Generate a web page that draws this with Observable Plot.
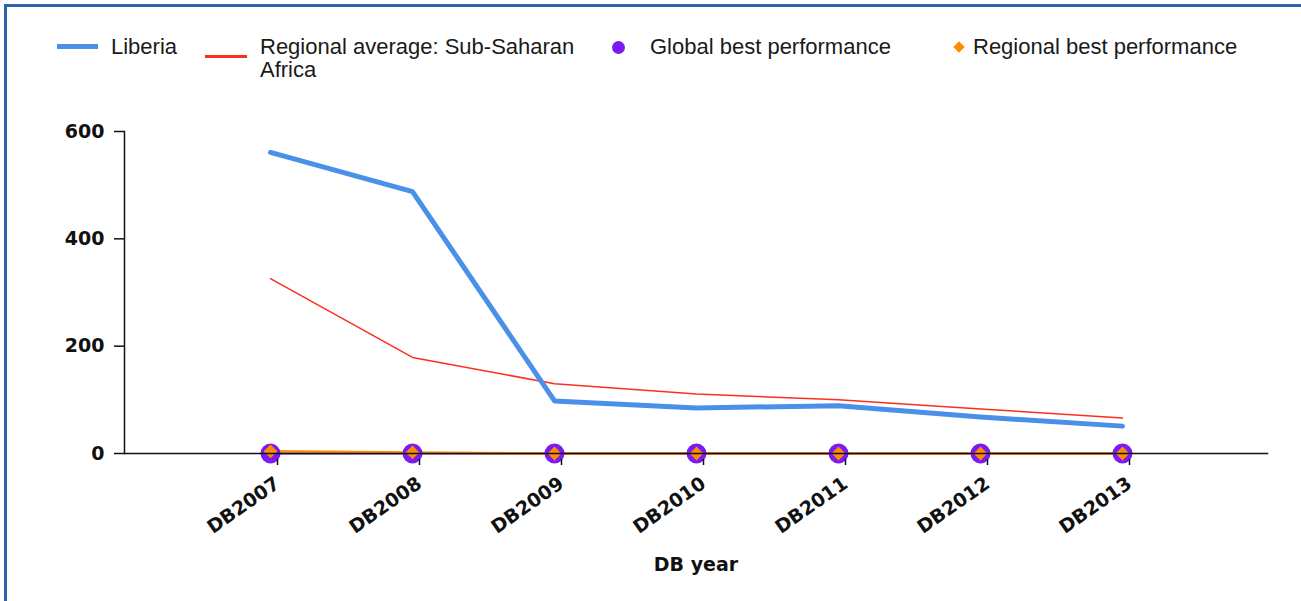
<!DOCTYPE html>
<html>
<head>
<meta charset="utf-8">
<script src="https://cdn.jsdelivr.net/npm/d3@7"></script>
<script src="https://cdn.jsdelivr.net/npm/@observablehq/plot@0.6"></script>
<style>
  body { margin: 0; background: #fff; }
  #wrap { position: relative; width: 1301px; height: 601px; overflow: hidden; background: #fff; }
  #border { position: absolute; left: 4px; top: 4px; width: 1400px; height: 700px;
            border-top: 3px solid #2b66ad; border-left: 3px solid #2b66ad; pointer-events: none; box-sizing: border-box; }
  #legend { position: relative; height: 100px; font-family: "Liberation Sans", Arial, sans-serif; font-size: 22px; color: #1a1a1a; }
  .txt { position: absolute; line-height: 23px; white-space: nowrap; }
  .sw { position: absolute; }
  #chart svg { display: block; }
</style>
</head>
<body>
<div id="wrap">
  <div id="legend"></div>
  <div id="chart"></div>
  <div id="border"></div>
</div>
<script>
// ---- data ----
const years = ["DB2007", "DB2008", "DB2009", "DB2010", "DB2011", "DB2012", "DB2013"];
const liberia = [561, 488, 98, 85, 89, 68, 51];
const regionalAverage = [326, 179, 130, 111, 100, 83, 66];
const globalBest = [0, 0, 0, 0, 0, 0, 0];
const regionalBest = [4, 2, 0, 0, 0, 0, 0];
const seriesNames = ["Liberia", "Regional average: Sub-Saharan Africa", "Global best performance", "Regional best performance"];
const seriesColors = ["#4a8fe8", "#ff2d1f", "#7a1bf4", "#ff8c00"];
const yTicks = [0, 200, 400, 600];
const xLabel = "DB year";

const rows = vals => years.map((year, i) => ({year, value: vals[i]}));

// ---- legend (HTML) ----
const legend = document.getElementById("legend");
function add(html) { legend.insertAdjacentHTML("beforeend", html); }
add(`<div class="sw" style="left:57px;top:44px;width:41px;height:5px;background:${seriesColors[0]}"></div>`);
add(`<div class="txt" style="left:111px;top:35px">${seriesNames[0]}</div>`);
add(`<div class="sw" style="left:205px;top:55px;width:42px;height:3px;background:${seriesColors[1]}"></div>`);
add(`<div class="txt" style="left:260px;top:35px">Regional average: Sub-Saharan<br>Africa</div>`);
add(`<div class="sw" style="left:612px;top:41px;width:13px;height:13px;border-radius:50%;background:${seriesColors[2]}"></div>`);
add(`<div class="txt" style="left:650px;top:35px">${seriesNames[2]}</div>`);
add(`<div class="sw" style="left:955px;top:43px;width:8px;height:8px;transform:rotate(45deg);background:${seriesColors[3]}"></div>`);
add(`<div class="txt" style="left:973px;top:35px">${seriesNames[3]}</div>`);

// ---- chart ----
const font = "'DejaVu Sans', sans-serif";
const chart = Plot.plot({
  width: 1301,
  height: 501,
  marginTop: 31,
  marginBottom: 148,
  marginLeft: 124,
  marginRight: 34,
  style: {fontFamily: font, fontWeight: "bold", fontSize: "19px", color: "#111", background: "transparent", overflow: "visible"},
  x: {type: "point", domain: years, padding: 1, label: null},
  y: {domain: [0, 600], label: null},
  marks: [
    Plot.line(rows(globalBest), {x: "year", y: "value", stroke: seriesColors[2], strokeWidth: 2}),
    Plot.line(rows(regionalBest), {x: "year", y: "value", stroke: seriesColors[3], strokeWidth: 2.5}),
    Plot.line(rows(regionalAverage), {x: "year", y: "value", stroke: seriesColors[1], strokeWidth: 1.5}),
    Plot.line(rows(liberia), {x: "year", y: "value", stroke: seriesColors[0], strokeWidth: 5}),
    Plot.dot(rows(globalBest), {x: "year", y: "value", r: 10, fill: seriesColors[2], stroke: "none"}),
    Plot.dot(rows(regionalBest), {x: "year", y: "value", symbol: "diamond2", r: 6.2, fill: seriesColors[3], stroke: "none"}),
    Plot.frame({anchor: "left", stroke: "#111", strokeWidth: 1.5}),
    Plot.frame({anchor: "bottom", stroke: "#111", strokeWidth: 1.5}),
    Plot.axisY({ticks: yTicks, tickSize: 10, tickPadding: 10, label: null, strokeWidth: 1.5, fontSize: 19, fontFamily: font, fontWeight: "bold"}),
    Plot.axisX({tickSize: 6, tickRotate: -35, tickPadding: 16, dx: 7, dy: 6, label: null, strokeWidth: 1.5, fontSize: 19, fontFamily: font, fontWeight: "bold"}),
    Plot.axisX({ticks: [], tickSize: 0, label: xLabel, labelAnchor: "center", labelArrow: "none", labelOffset: 117, fontSize: 19, fontFamily: font, fontWeight: "bold"})
  ]
});
document.getElementById("chart").append(chart);
</script>
</body>
</html>
